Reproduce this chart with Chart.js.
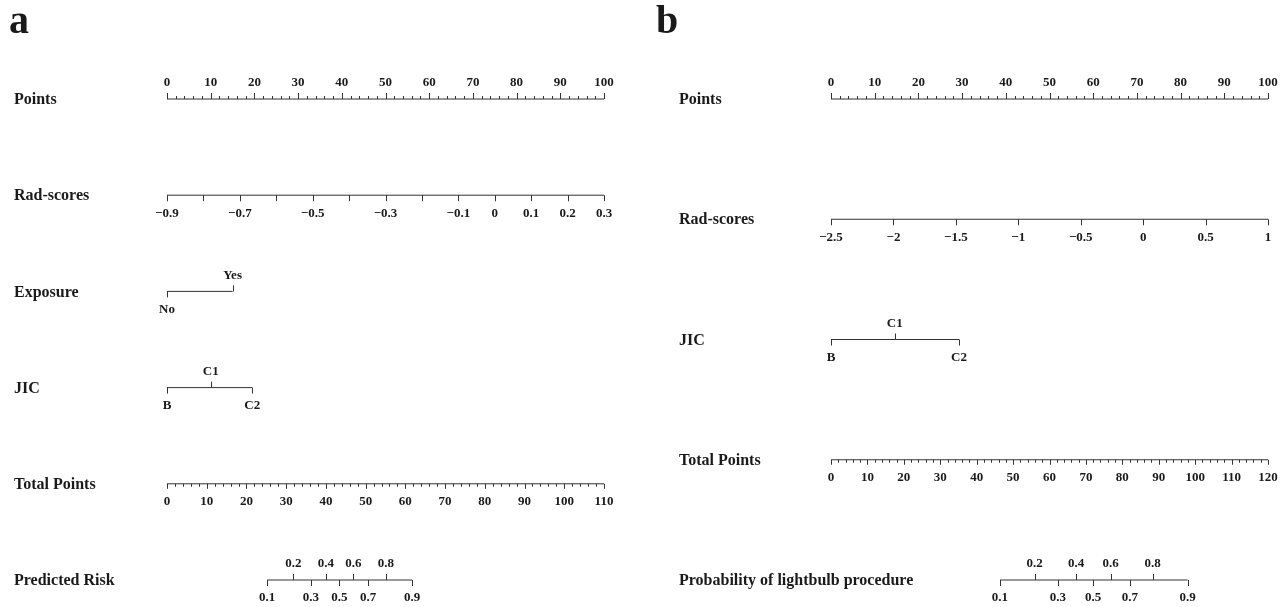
<!DOCTYPE html>
<html>
<head>
<meta charset="utf-8">
<script src="https://cdn.jsdelivr.net/npm/chart.js@4.4.1/dist/chart.umd.min.js"></script>
<style>
  body { margin: 0; background: #fff; }
  #wrap { position: relative; width: 1288px; height: 607px; }
  canvas { position: absolute; top: 0; }
  #chartA { left: 0; }
  #chartB { left: 644px; }
</style>
</head>
<body>
<div id="wrap">
  <canvas id="chartA" width="644" height="607"></canvas>
  <canvas id="chartB" width="644" height="607"></canvas>
</div>
<script>
/* ---------- DATA : panel a ---------- */
const aRows = ["Points", "Rad-scores", "Exposure", "JIC", "Total Points", "Predicted Risk"];
const aPointsLabels = [0, 10, 20, 30, 40, 50, 60, 70, 80, 90, 100];
const aRadRange = [-0.9, 0.3];
const aRadTicks = [-0.9, -0.8, -0.7, -0.6, -0.5, -0.4, -0.3, -0.2, -0.1, 0, 0.1, 0.2, 0.3];
const aRadLabels = [-0.9, -0.7, -0.5, -0.3, -0.1, 0, 0.1, 0.2, 0.3];
const aExposureLevels = ["No", "Yes"];
const aExposurePoints = [0, 15];
const aJicLevels = ["B", "C1", "C2"];
const aJicPoints = [0, 10, 19.5];
const aTotalRange = [0, 110];
const aTotalLabels = [0, 10, 20, 30, 40, 50, 60, 70, 80, 90, 100, 110];
const aRiskLabels = ["0.1", "0.2", "0.3", "0.4", "0.5", "0.6", "0.7", "0.8", "0.9"];
const aRiskTotal = [25.2, 31.8, 36.2, 40.0, 43.4, 46.9, 50.6, 55.1, 61.7];

/* ---------- DATA : panel b ---------- */
const bRows = ["Points", "Rad-scores", "JIC", "Total Points", "Probability of lightbulb procedure"];
const bPointsLabels = [0, 10, 20, 30, 40, 50, 60, 70, 80, 90, 100];
const bRadRange = [-2.5, 1];
const bRadTicks = [-2.5, -2, -1.5, -1, -0.5, 0, 0.5, 1];
const bJicLevels = ["B", "C1", "C2"];
const bJicPoints = [0, 14.6, 29.3];
const bTotalRange = [0, 120];
const bTotalLabels = [0, 10, 20, 30, 40, 50, 60, 70, 80, 90, 100, 110, 120];
const bRiskLabels = ["0.1", "0.2", "0.3", "0.4", "0.5", "0.6", "0.7", "0.8", "0.9"];
const bRiskTotal = [46.4, 55.9, 62.3, 67.3, 72.0, 76.8, 82.1, 88.3, 97.9];

/* ---------- HELPERS ---------- */
const INK = "#1a1a1a";
const LINE = "#333";
const SERIF = "'Liberation Serif', 'Times New Roman', serif";

const lin = (lo, hi) => v => (v - lo) / (hi - lo) * 100;
const same = v => v;
const fmt = v => (v < 0 ? "\u2212" + String(-v) : String(v));

function steps(a, b, s) {
  const r = [];
  for (let v = a; v <= b + 1e-9; v += s) r.push(+v.toFixed(4));
  return r;
}

// even index: tick + label below, odd index: above
function levelRow(levels, pts) {
  return {
    map: same,
    line: [Math.min(...pts), Math.max(...pts)],
    ticks: pts.map((v, i) => [v, 6, i % 2 ? -1 : 1]),
    labels: levels.map((t, i) => [pts[i], t, i % 2 ? -1 : 1])
  };
}

function pointsRow(labels) {
  return {
    map: same,
    line: [0, 100],
    ticks: steps(0, 100, 2).map(v => [v, v % 10 === 0 ? 6 : 3, -1]),
    labels: labels.map(v => [v, String(v), -1])
  };
}

function totalRow(range, labels) {
  return {
    map: lin(range[0], range[1]),
    line: range,
    ticks: steps(range[0], range[1], 2).map(v => [v, v % 10 === 0 ? 5 : 3, 1]),
    labels: labels.map(v => [v, String(v), 1])
  };
}

function riskRow(range, labels, totals) {
  return {
    map: lin(range[0], range[1]),
    line: [totals[0], totals[totals.length - 1]],
    ticks: totals.map((v, i) => [v, 6, i % 2 ? -1 : 1]),
    labels: labels.map((t, i) => [totals[i], t, i % 2 ? -1 : 1])
  };
}

/* ---------- ROW SPECS ---------- */
const aSpec = [
  pointsRow(aPointsLabels),
  {
    map: lin(aRadRange[0], aRadRange[1]),
    line: aRadRange,
    ticks: aRadTicks.map(v => [v, 6, 1]),
    labels: aRadLabels.map(v => [v, fmt(v), 1])
  },
  levelRow(aExposureLevels, aExposurePoints),
  levelRow(aJicLevels, aJicPoints),
  totalRow(aTotalRange, aTotalLabels),
  riskRow(aTotalRange, aRiskLabels, aRiskTotal)
];

const bSpec = [
  pointsRow(bPointsLabels),
  {
    map: lin(bRadRange[0], bRadRange[1]),
    line: bRadRange,
    ticks: bRadTicks.map(v => [v, 6, 1]),
    labels: bRadTicks.map(v => [v, fmt(v), 1])
  },
  levelRow(bJicLevels, bJicPoints),
  totalRow(bTotalRange, bTotalLabels),
  riskRow(bTotalRange, bRiskLabels, bRiskTotal)
];

/* ---------- TICKS + TEXT PLUGIN ---------- */
function nomoPlugin(letter, letterX, rows, spec, labelX) {
  return {
    id: "nomo",
    afterDatasetsDraw(chart) {
      const { ctx } = chart;
      const x = chart.scales.x, y = chart.scales.y;
      ctx.save();
      ctx.fillStyle = INK;
      ctx.font = "bold 40px " + SERIF;
      ctx.textAlign = "left";
      ctx.textBaseline = "alphabetic";
      ctx.fillText(letter, letterX, 33);

      rows.forEach((name, r) => {
        const py = y.getPixelForValue(r);
        const s = spec[r];
        ctx.font = "bold 16px " + SERIF;
        ctx.textAlign = "left";
        ctx.textBaseline = "middle";
        ctx.fillText(name, labelX, py + 1);

        ctx.strokeStyle = LINE;
        ctx.lineWidth = 1;
        s.ticks.forEach(([v, len, dir]) => {
          const px = Math.round(x.getPixelForValue(s.map(v))) + 0.5;
          ctx.beginPath();
          ctx.moveTo(px, py);
          ctx.lineTo(px, py + dir * len);
          ctx.stroke();
        });

        ctx.font = "bold 13px " + SERIF;
        ctx.textAlign = "center";
        s.labels.forEach(([v, t, dir]) => {
          ctx.fillText(t, x.getPixelForValue(s.map(v)), py + (dir > 0 ? 18 : -16));
        });
      });
      ctx.restore();
    }
  };
}

/* ---------- CHARTS ---------- */
function makePanel(id, letter, letterX, rows, spec, labelX, pad) {
  const datasets = spec.map((s, r) => ({
    data: s.line.map(v => ({ x: s.map(v), y: r })),
    showLine: true,
    borderColor: LINE,
    borderWidth: 1,
    pointRadius: 0,
    clip: false
  }));
  return new Chart(document.getElementById(id), {
    type: "scatter",
    data: { datasets },
    options: {
      responsive: false,
      animation: false,
      events: [],
      layout: { padding: pad },
      plugins: { legend: { display: false }, tooltip: { enabled: false } },
      scales: {
        x: { type: "linear", min: 0, max: 100, display: false },
        y: { type: "linear", min: 0, max: rows.length - 1, reverse: true, display: false }
      }
    },
    plugins: [nomoPlugin(letter, letterX, rows, spec, labelX)]
  });
}

makePanel("chartA", "a", 9, aRows, aSpec, 14, { left: 167, right: 40, top: 99, bottom: 27 });
makePanel("chartB", "b", 12, bRows, bSpec, 35, { left: 187, right: 20, top: 99, bottom: 27 });
</script>
</body>
</html>
